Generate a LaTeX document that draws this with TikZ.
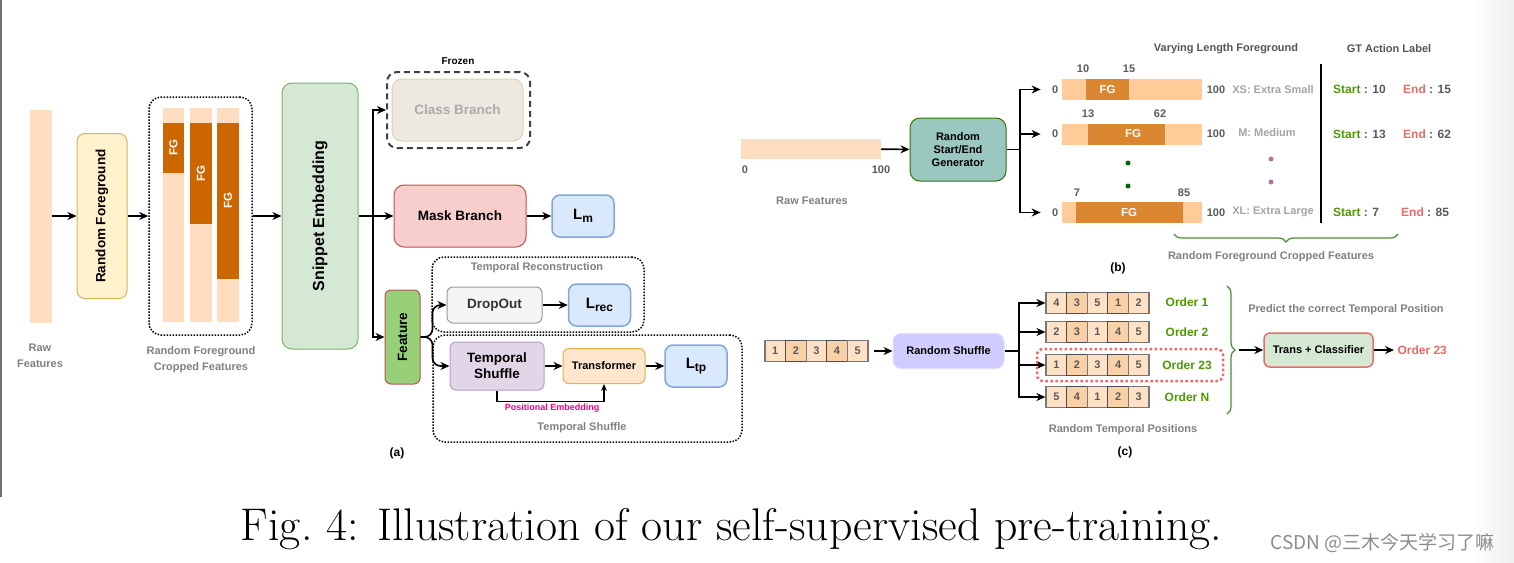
\documentclass[tikz,border=0pt]{standalone}
\usepackage{fontspec}
\usepackage{graphicx}
\usepackage{tikz}
\usetikzlibrary{arrows.meta,decorations.pathreplacing}
\newfontfamily\arial{Liberation Sans}
\newfontfamily\cjk{Noto Sans CJK SC}

\definecolor{peach}{HTML}{FFDDC0}
\definecolor{fgdark}{HTML}{CC6600}
\definecolor{rfgfill}{HTML}{FFF2CC}
\definecolor{rfgedge}{HTML}{D6B656}
\definecolor{snipfill}{HTML}{D5E8D4}
\definecolor{snipedge}{HTML}{82B366}
\definecolor{classfill}{HTML}{EDE9E1}
\definecolor{classedge}{HTML}{DDD2B0}
\definecolor{classtext}{HTML}{ABABAB}
\definecolor{maskfill}{HTML}{F8CECC}
\definecolor{maskedge}{HTML}{B85450}
\definecolor{lossfill}{HTML}{DAE8FC}
\definecolor{lossedge}{HTML}{7EA6E0}
\definecolor{featfill}{HTML}{97D077}
\definecolor{featedge}{HTML}{B85450}
\definecolor{dropfill}{HTML}{F5F5F5}
\definecolor{dropedge}{HTML}{999999}
\definecolor{tsfill}{HTML}{E1D5E7}
\definecolor{tsedge}{HTML}{B5A0C8}
\definecolor{transfill}{HTML}{FFE6CC}
\definecolor{transedge}{HTML}{E8B04A}
\definecolor{genfill}{HTML}{9AC7BF}
\definecolor{genedge}{HTML}{2D7600}
\definecolor{barpale}{HTML}{FFCC99}
\definecolor{barfg}{HTML}{DB8631}
\definecolor{shuffill}{HTML}{D0CCFF}
\definecolor{shufedge}{HTML}{E0DDFF}
\definecolor{cellpale}{HTML}{FFE2C6}
\definecolor{celldark}{HTML}{FAD0A6}
\definecolor{celledge}{HTML}{777777}
\definecolor{celldeep}{HTML}{4D4D4D}
\definecolor{pemb}{HTML}{FF0080}
\definecolor{startgreen}{HTML}{4D9900}
\definecolor{endred}{HTML}{EA6B66}
\definecolor{notegray}{HTML}{808080}
\definecolor{numgray}{HTML}{5A5A5A}
\definecolor{lightlbl}{HTML}{A3A3A3}
\definecolor{headgray}{HTML}{555555}
\definecolor{dotgreen}{HTML}{006600}
\definecolor{dotpurple}{HTML}{B5739D}
\definecolor{bracegreen}{HTML}{4A8A3A}

\newcommand{\loss}[1]{L\raisebox{-3pt}{\fontsize{12}{12}\selectfont #1}}

\begin{document}
\begin{tikzpicture}[x=1pt,y=-1pt,>={Stealth[length=9pt,width=8pt]},
  box/.style={draw, rounded corners=6pt, line width=1pt, align=center, inner sep=0pt,
    font=\arial\bfseries\fontsize{13.5}{16}\selectfont},
  lossbox/.style={box, fill=lossfill, draw=lossedge, line width=1.5pt, rounded corners=8pt,
    minimum width=62pt, minimum height=42pt, font=\arial\bfseries\fontsize{15}{16}\selectfont},
  small/.style={font=\arial\bfseries\fontsize{11}{13}\selectfont},
  mid/.style={font=\arial\bfseries\fontsize{12}{14}\selectfont},
  note/.style={font=\arial\bfseries\fontsize{11}{16}\selectfont, text=notegray, align=center},
  flow/.style={->, line width=1.6pt},
  dotbox/.style={draw, rounded corners=12pt, line width=1.5pt, dash pattern=on 1.5pt off 1.5pt},
  bar/.style={minimum width=140pt, minimum height=21pt, inner sep=0pt},
  cell/.style={draw, line width=1.2pt, minimum width=20.6pt, minimum height=21pt, inner sep=0pt,
    font=\arial\bfseries\fontsize{11}{13}\selectfont, text=numgray},
  fglbl/.style={font=\arial\bfseries\fontsize{11.5}{13}\selectfont, text=white},
]
\useasboundingbox (0,0) rectangle (1514,562);
\shade[left color=white, right color=black!6] (1470,0) rectangle (1514,562);
\draw[black!55, line width=2pt] (1,0) -- (1,497);

% (a) pre-training pipeline
\node[fill=peach, minimum width=22pt, minimum height=213pt, inner sep=0pt] (rawa) at (41,216) {};
\node[note] (rawalbl) at (40,356) {Raw\\Features};
\node[box, fill=rfgfill, draw=rfgedge, rounded corners=8pt, minimum width=50pt, minimum height=165pt] (rfg) at (102,216) {\rotatebox{90}{Random Foreground}};
\node[dotbox, minimum width=103pt, minimum height=238pt] (crop) at (200.5,216) {};
\fill[peach] (163,108) rectangle (184,322);
\fill[peach] (190,108) rectangle (212,322);
\fill[peach] (217,108) rectangle (239,322);
\fill[fgdark] (163,123) rectangle (184,173);
\fill[fgdark] (190,123) rectangle (212,224);
\fill[fgdark] (217,123) rectangle (239,279);
\node[fglbl] (fga) at (173.5,148) {\rotatebox{90}{FG}};
\node[fglbl] (fgb) at (201,173.5) {\rotatebox{90}{FG}};
\node[fglbl] (fgc) at (228,201) {\rotatebox{90}{FG}};
\node[note] (croplbl) at (201,360) {Random Foreground\\Cropped Features};
\node[box, fill=snipfill, draw=snipedge, rounded corners=10pt, minimum width=76pt, minimum height=266pt,
  font=\arial\bfseries\fontsize{16}{18}\selectfont] (snip) at (320,216) {\rotatebox{90}{Snippet Embedding}};
\draw[flow] (rawa.east) -- (rfg.west);
\draw[flow] (rfg) -- (crop);
\draw[flow] (crop) -- (snip);

\node[font=\arial\bfseries\fontsize{10}{12}\selectfont] (frz) at (458,61) {Frozen};
\node[box, fill=classfill, draw=classedge, text=classtext, rounded corners=10pt, minimum width=131pt, minimum height=62pt] (cls) at (457.5,110) {Class Branch};
\node[draw=black!75, rounded corners=10pt, line width=2pt, dash pattern=on 6pt off 4pt, minimum width=143pt, minimum height=76pt] (frozen) at (458.5,110) {};
\node[box, fill=maskfill, draw=maskedge, rounded corners=10pt, minimum width=132pt, minimum height=62pt] (mask) at (460,216) {Mask Branch};
\node[lossbox] (lm) at (583,216) {\loss{m}};
\node[box, fill=featfill, draw=featedge, minimum width=35pt, minimum height=94pt] (feat) at (402.5,337) {\rotatebox{90}{Feature}};
\coordinate (split) at (373,216);
\draw[line width=1.6pt] (snip.east) -- (split);
\draw[flow] (split) |- (frozen.west);
\draw[flow] (split) -- (mask.west);
\draw[flow] (split) |- (feat.west);
\draw[flow] (mask) -- (lm);

\node[dotbox, minimum width=212pt, minimum height=75pt] (recbox) at (538,294.5) {};
\node[note] (reclbl) at (537,268) {Temporal Reconstruction};
\node[box, fill=dropfill, draw=dropedge, text=black!80, minimum width=95pt, minimum height=36pt] (drop) at (494.5,305) {DropOut};
\node[lossbox] (lrec) at (599.5,305) {\loss{rec}};
\node[dotbox, minimum width=309pt, minimum height=107pt] (shufbox) at (587.5,388.5) {};
\node[note] (shuflbl) at (582,428) {Temporal Shuffle};
\node[box, fill=tsfill, draw=tsedge, minimum width=94pt, minimum height=48pt] (tshuf) at (497,366) {Temporal\\Shuffle};
\node[box, fill=transfill, draw=transedge, minimum width=82pt, minimum height=35pt, font=\arial\bfseries\fontsize{11}{13}\selectfont] (trans) at (604,366) {Transformer};
\node[lossbox] (ltp) at (696,366) {\loss{tp}};
\draw[flow, rounded corners=8pt] (feat.east) -- ++(12,0) |- (drop.west);
\draw[flow, rounded corners=8pt] (feat.east) -- ++(12,0) |- (tshuf.west);
\draw[flow] (drop) -- (lrec);
\draw[flow] (tshuf) -- (trans);
\draw[flow] (trans) -- (ltp);
\draw[-{Stealth[length=7pt,width=6pt]}, line width=1.2pt] (tshuf.south) -- ++(0,11) -| (trans.south);
\node[font=\arial\bfseries\fontsize{9}{11}\selectfont, text=pemb] (pelbl) at (552,408) {Positional Embedding};
\node[mid] (tagA) at (397,453) {(a)};

% (b) random foreground cropping
\node[fill=peach, minimum width=140pt, minimum height=20pt, inner sep=0pt] (rawb) at (811,149) {};
\node[small, text=numgray] (rb0) at (745,170) {0};
\node[small, text=numgray] (rb100) at (881,170) {100};
\node[note] (rawblbl) at (812,201) {Raw Features};
\node[box, fill=genfill, draw=genedge, rounded corners=10pt, minimum width=96pt, minimum height=63pt,
  font=\arial\bfseries\fontsize{11}{13}\selectfont] (gen) at (958,149.5) {Random\\Start/End\\Generator};
\draw[flow] (rawb) -- (gen);
\coordinate (fork) at (1020,149.5);
\draw[line width=1.6pt] (gen.east) -- (fork);

\node[bar, fill=barpale] (bxs) at (1132,89.5) {};
\node[bar, fill=barpale] (bm) at (1132,134) {};
\node[bar, fill=barpale] (bxl) at (1132,212.5) {};
\fill[barfg] (1086,79) rectangle (1129,100);
\fill[barfg] (1088,123.5) rectangle (1165,144.5);
\fill[barfg] (1076,202) rectangle (1183,223);
\node[fglbl] (fgxs) at (1107.5,89.5) {FG};
\node[fglbl] (fgm) at (1133,134) {FG};
\node[fglbl] (fgxl) at (1129,212.5) {FG};
\node[small, text=numgray, anchor=east] (z1) at (bxs.west) {0};
\node[small, text=numgray, anchor=east] (z2) at (bm.west) {0};
\node[small, text=numgray, anchor=east] (z3) at (bxl.west) {0};
\draw[flow, shorten >=8pt] (fork) |- (z1.west);
\draw[flow, shorten >=8pt] (fork) |- (z2.west);
\draw[flow, shorten >=8pt] (fork) |- (z3.west);
\node[small, text=numgray] (s10) at (1083,69) {10};
\node[small, text=numgray] (e15) at (1129,69) {15};
\node[small, text=numgray] (s13) at (1088,114) {13};
\node[small, text=numgray] (e62) at (1160,114) {62};
\node[small, text=numgray] (s7) at (1077,193) {7};
\node[small, text=numgray] (e85) at (1184,193) {85};
\node[small, text=numgray] (h1) at (1216,89.5) {100};
\node[small, text=numgray] (h2) at (1216,134) {100};
\node[small, text=numgray] (h3) at (1216,212.5) {100};
\node[small, text=lightlbl] (xs) at (1273,90) {XS: Extra Small};
\node[small, text=lightlbl] (md) at (1267,133) {M: Medium};
\node[small, text=lightlbl] (xl) at (1273,212) {XL: Extra Large};
\fill[dotgreen] (1128,163) circle (2.5pt);
\fill[dotgreen] (1128,186) circle (2.5pt);
\fill[dotpurple] (1271,159) circle (2.5pt);
\fill[dotpurple] (1271,182) circle (2.5pt);
\node[small, text=headgray] (vlf) at (1226,49) {Varying Length Foreground};
\node[small, text=headgray] (gtl) at (1389,49) {GT Action Label};
\draw[line width=1.5pt] (1321,64) -- (1321,223);
\node[mid, text=numgray, anchor=west, inner sep=0pt] (st1) at (1333,89.5) {\textcolor{startgreen}{Start} : 10};
\node[mid, text=numgray, anchor=west, inner sep=0pt] (en1) at (1403,89.5) {\textcolor{endred}{End} : 15};
\node[mid, text=numgray, anchor=west, inner sep=0pt] (st2) at (1333,134) {\textcolor{startgreen}{Start} : 13};
\node[mid, text=numgray, anchor=west, inner sep=0pt] (en2) at (1403,134) {\textcolor{endred}{End} : 62};
\node[mid, text=numgray, anchor=west, inner sep=0pt] (st3) at (1333,212.5) {\textcolor{startgreen}{Start} : 7};
\node[mid, text=numgray, anchor=west, inner sep=0pt] (en3) at (1401,212.5) {\textcolor{endred}{End} : 85};
\draw[decorate, decoration={brace, amplitude=8pt, mirror}, draw=bracegreen, line width=1.2pt] (1174,234) -- (1398,234);
\node[note] (cropblbl) at (1271,257) {Random Foreground Cropped Features};
\node[mid] (tagB) at (1118,268) {(b)};

% (c) random temporal shuffle
\foreach \v [count=\i] in {1,2,3,4,5} {
  \ifodd\i \def\cf{cellpale}\def\cd{celledge}\else\def\cf{celldark}\def\cd{celldeep}\fi
  \node[cell, fill=\cf, draw=\cd] (in-\i) at ({754.6+20.6*\i},351) {\v};
}
\node[box, fill=shuffill, draw=shufedge, rounded corners=8pt, minimum width=111pt, minimum height=35pt,
  font=\arial\bfseries\fontsize{11}{13}\selectfont] (rsh) at (948.5,351) {Random Shuffle};
\draw[flow, shorten <=5pt] (in-5) -- (rsh);
\coordinate (fork2) at (1019,351);
\draw[line width=1.6pt] (rsh.east) -- (fork2);
\foreach \seq/\yy [count=\r] in {{4,3,5,1,2}/303,{2,3,1,4,5}/332,{1,2,3,4,5}/365,{5,4,1,2,3}/397} {
  \foreach \v [count=\i] in \seq {
    \ifodd\i \def\cf{cellpale}\def\cd{celledge}\else\def\cf{celldark}\def\cd{celldeep}\fi
    \node[cell, fill=\cf, draw=\cd] (s\r-\i) at ({1035.7+20.6*\i},\yy) {\v};
  }
  \draw[flow] (fork2) |- (s\r-1.west);
}
\node[draw=endred, rounded corners=6pt, line width=2.5pt, dash pattern=on 2.5pt off 2.5pt, minimum width=186pt, minimum height=32pt] (pick) at (1130,365) {};
\node[mid, text=startgreen] (o1) at (1187,302) {Order 1};
\node[mid, text=startgreen] (o2) at (1187,332) {Order 2};
\node[mid, text=startgreen] (o3) at (1187,365) {Order 23};
\node[mid, text=startgreen] (o4) at (1187,397) {Order N};
\draw[decorate, decoration={brace, amplitude=8pt}, draw=bracegreen, line width=1.2pt] (1227,286) -- (1227,414);
\coordinate (brtip) at (1239,350);
\node[box, fill=snipfill, draw=endred, line width=1.5pt, rounded corners=6pt, minimum width=109pt, minimum height=34pt,
  font=\arial\bfseries\fontsize{11}{13}\selectfont] (trc) at (1318.5,350) {Trans + Classifier};
\node[mid, text=endred, anchor=west] (o23) at (1394,350) {Order 23};
\draw[flow] (brtip) -- (trc.west);
\draw[flow] (trc) -- (o23);
\node[note] (predlbl) at (1346,310) {Predict the correct Temporal Position};
\node[note] (poslbl) at (1123,430) {Random Temporal Positions};
\node[mid] (tagC) at (1125,452) {(c)};

% caption and mark
\node[anchor=base, inner sep=0pt] (cap) at (731.5,540) {\resizebox{981pt}{!}{\fontsize{38}{40}\selectfont Fig.~4: Illustration of our self-supervised pre-training.}};
\node[font=\cjk\fontsize{19}{20}\selectfont, text=black!45] (wm) at (1382.5,543) {CSDN @三木今天学习了嘛};
\end{tikzpicture}
\end{document}
